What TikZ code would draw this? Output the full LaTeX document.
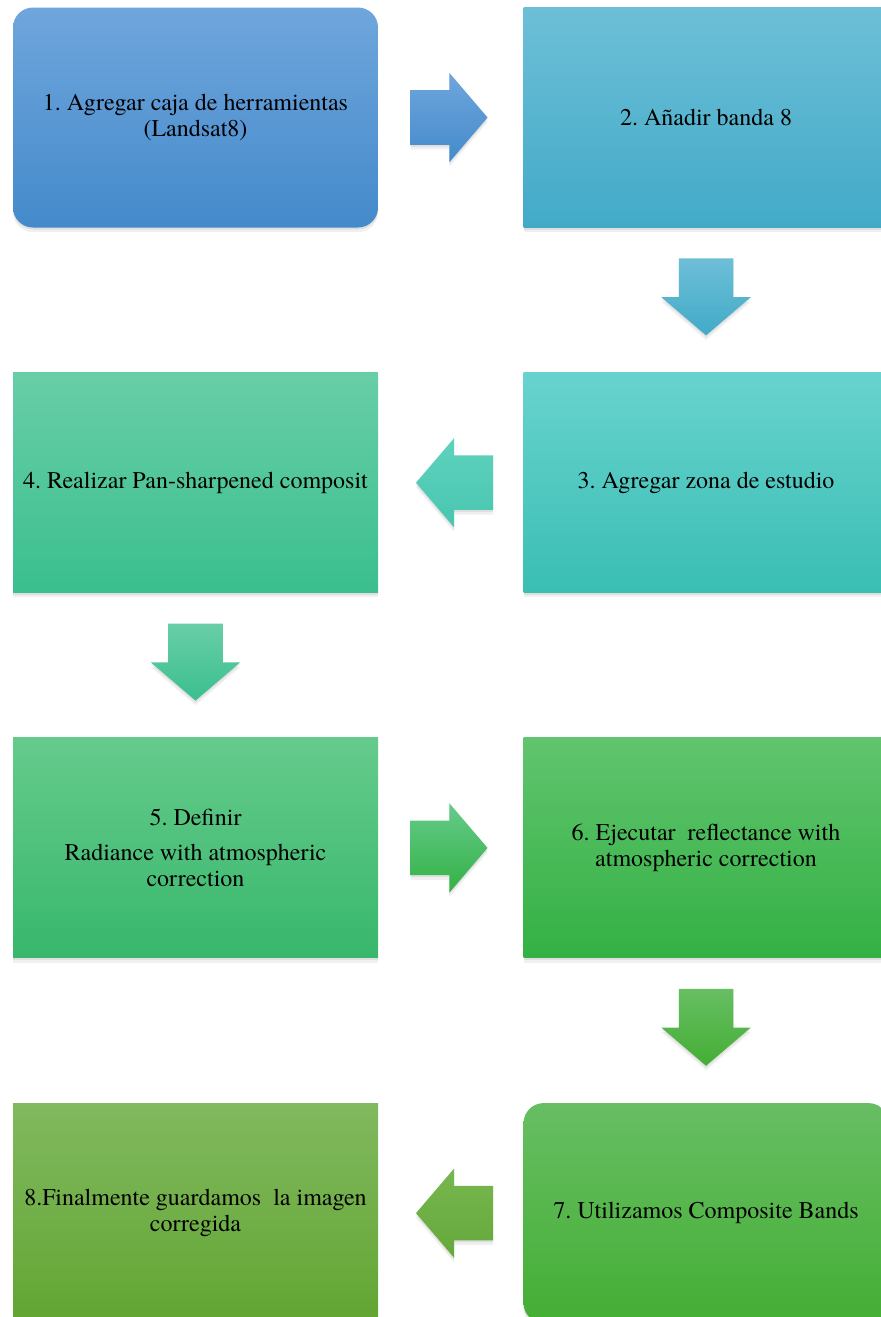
\documentclass[tikz,border=0pt]{standalone}
\usepackage{fontspec}
\setmainfont{TeX Gyre Termes}
\usetikzlibrary{positioning,calc,shapes.arrows,shadows}

% colours of the steps, top and bottom of each gradient
\definecolor{boxAt}{RGB}{111,166,220}
\definecolor{boxAb}{RGB}{68,138,203}
\definecolor{boxBt}{RGB}{109,191,215}
\definecolor{boxBb}{RGB}{66,170,200}
\definecolor{boxCt}{RGB}{104,211,206}
\definecolor{boxCb}{RGB}{58,190,180}
\definecolor{boxDt}{RGB}{104,206,168}
\definecolor{boxDb}{RGB}{59,191,143}
\definecolor{boxEt}{RGB}{101,203,140}
\definecolor{boxEb}{RGB}{56,183,108}
\definecolor{boxFt}{RGB}{97,196,110}
\definecolor{boxFb}{RGB}{51,177,68}
\definecolor{boxGt}{RGB}{103,190,99}
\definecolor{boxGb}{RGB}{68,174,52}
\definecolor{boxHt}{RGB}{129,185,95}
\definecolor{boxHb}{RGB}{98,165,50}
% colours of the left arrows
\definecolor{arrCt}{RGB}{95,210,190}
\definecolor{arrCb}{RGB}{72,198,175}
\definecolor{arrGt}{RGB}{120,183,80}
\definecolor{arrGb}{RGB}{100,168,58}

\begin{document}
\frenchspacing
\begin{tikzpicture}[
  x=0.75pt, y=-0.75pt,
  node distance=108.5pt and 108.75pt,
  soft shadow/.style={drop shadow={shadow xshift=0pt, shadow yshift=-1.5pt, opacity=0.15},
    drop shadow={shadow xshift=0pt, shadow yshift=-3.5pt, opacity=0.12}},
  stepbox/.style={rectangle, minimum width=273.75pt, minimum height=165pt,
    inner sep=0pt, align=center, font=\fontsize{18}{19.5}\selectfont, soft shadow},
  blockarrow/.style={single arrow, minimum width=66.75pt, minimum height=57.75pt,
    single arrow head extend=13.1pt, single arrow tip angle=99, inner sep=0pt,
    anchor=tail, soft shadow},
  tone/.style 2 args={top color=#1, bottom color=#2}
]
\useasboundingbox (0,0) rectangle (881,1317);

% the eight steps
\node[stepbox, rounded corners=15pt, tone={boxAt}{boxAb}] (b1) at (195.5,117.5)
  {1. Agregar caja de herramientas\\(Landsat8)};
\node[stepbox, tone={boxBt}{boxBb}, right=of b1] (b2) {2. Añadir banda 8};
\node[stepbox, tone={boxCt}{boxCb}, below=of b2] (b3) {3. Agregar zona de estudio};
\node[stepbox, tone={boxDt}{boxDb}, left=of b3] (b4) {4. Realizar Pan-sharpened composit};
\node[stepbox, tone={boxEt}{boxEb}, below=of b4] (b5)
  {5. Definir\\[7pt]Radiance with atmospheric\\correction};
\node[stepbox, tone={boxFt}{boxFb}, right=of b5] (b6)
  {6. Ejecutar~ reflectance with\\atmospheric correction};
\node[stepbox, rounded corners=15pt, tone={boxGt}{boxGb}, below=of b6] (b7)
  {7. Utilizamos Composite Bands};
\node[stepbox, tone={boxHt}{boxHb}, left=of b7] (b8)
  {8.Finalmente guardamos~ la imagen\\corregida};

% arrows between the steps, tail placed just off the box they leave
% (the shift is taken along the arrow, after the rotation)
\node[blockarrow, tone={boxAt}{boxAb}, xshift=24pt] (a12) at (b1.east) {\rule{0pt}{40.5pt}};
\node[blockarrow, rotate=-90, tone={boxBt}{boxBb}, xshift=22.75pt] (a23)
  at (b2.south) {\rule{0pt}{40.5pt}};
\node[blockarrow, rotate=180, tone={arrCt}{arrCb}, xshift=22.5pt] (a34)
  at (b3.west) {\rule{0pt}{40.5pt}};
\node[blockarrow, rotate=-90, tone={boxDt}{boxDb}, xshift=22.75pt] (a45)
  at (b4.south) {\rule{0pt}{40.5pt}};
\node[blockarrow, tone={boxEt}{boxFb}, xshift=24pt] (a56) at (b5.east) {\rule{0pt}{40.5pt}};
\node[blockarrow, rotate=-90, tone={boxGt}{boxGb}, xshift=22.75pt] (a67)
  at (b6.south) {\rule{0pt}{40.5pt}};
\node[blockarrow, rotate=180, tone={arrGt}{arrGb}, xshift=22.5pt] (a78)
  at (b7.west) {\rule{0pt}{40.5pt}};
\end{tikzpicture}
\end{document}
